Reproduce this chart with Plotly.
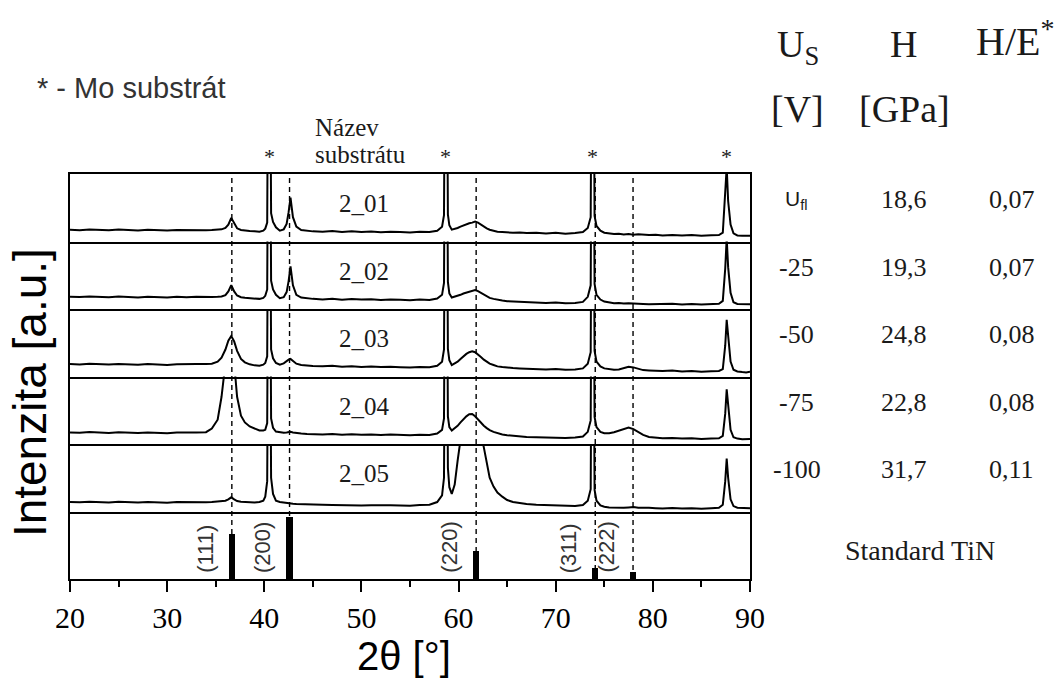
import plotly.graph_objects as go
from plotly.subplots import make_subplots

# 2θ sampling grid [°] (denser around the diffraction lines)
two_theta = [
    20, 21, 22, 23, 24, 25, 26, 27, 28, 29, 30, 31, 32, 33, 34,
    34.6, 35.2, 35.6, 36.0, 36.3, 36.6, 36.9, 37.2, 37.6, 38.0, 38.5, 39.0, 39.5, 39.9,
    40.1, 40.3, 40.5, 40.7, 40.9, 41.2, 41.6, 42.0, 42.3, 42.5, 42.7, 42.95, 43.3, 43.8, 44.4,
    45, 46, 47, 48, 49, 50, 51, 52, 53, 54, 55, 56, 57, 57.8,
    58.3, 58.5, 58.7, 58.9, 59.05, 59.3, 59.6, 59.9, 60.2, 60.5, 60.8, 61.1, 61.4, 61.7,
    62.0, 62.3, 62.6, 62.9, 63.2, 63.6, 64.0, 64.5, 65.0, 65.6, 66.3,
    67, 68, 69, 70, 71, 72, 72.8,
    73.3, 73.6, 73.8, 74.0, 74.2, 74.6, 75.0, 75.5, 76.0, 76.5, 77.0, 77.5, 78.0, 78.5, 79.0, 79.6,
    80.3, 81, 82, 83, 84, 85, 86, 86.8,
    87.2, 87.45, 87.6, 87.75, 88.0, 88.3, 88.7, 89.2, 89.6, 90,
]

# Intensities [a.u.] of the individual samples on the same grid
int_2_01 = [
    1.75, 1.68, 1.78, 1.70, 1.66, 1.76, 1.72, 1.64, 1.74, 1.70, 1.62, 1.72, 1.68, 1.74, 1.66,
    1.70, 1.75, 1.80, 2.00, 2.50, 3.50, 2.60, 1.95, 1.70, 1.60, 1.55, 1.50, 1.45, 1.60,
    1.90, 2.80, 60, 4.20, 2.90, 2.10, 1.60, 1.80, 2.60, 4.30, 6.50, 3.60, 2.20, 1.70, 1.55,
    1.50, 1.45, 1.55, 1.40, 1.50, 1.42, 1.48, 1.38, 1.46, 1.40, 1.35, 1.45, 1.40, 1.60,
    2.20, 3.90, 60, 4.00, 2.40, 1.75, 1.85, 2.00, 2.20, 2.40, 2.60, 2.70, 2.80, 2.95,
    2.80, 2.50, 2.20, 1.95, 1.75, 1.60, 1.45, 1.40, 1.35, 1.30, 1.35,
    1.25, 1.30, 1.20, 1.28, 1.15, 1.25, 1.40,
    2.00, 3.60, 60, 3.80, 2.30, 1.60, 1.30, 1.20, 1.10, 1.15, 1.05, 1.10, 1.00, 1.08, 1.00, 0.95,
    1.00, 0.90, 0.98, 0.88, 0.95, 0.85, 0.92, 0.95,
    1.30, 6.50, 11.0, 6.00, 2.50, 1.20, 0.90, 0.85, 0.80, 0.85,
]
int_2_02 = [
    1.82, 1.76, 1.85, 1.78, 1.74, 1.84, 1.80, 1.72, 1.82, 1.78, 1.70, 1.80, 1.75, 1.82, 1.74,
    1.78, 1.80, 1.85, 2.05, 2.60, 3.55, 2.60, 2.00, 1.75, 1.65, 1.60, 1.55, 1.50, 1.65,
    1.95, 2.90, 60, 4.20, 2.90, 2.10, 1.60, 1.75, 2.50, 4.10, 6.30, 3.50, 2.10, 1.70, 1.55,
    1.50, 1.42, 1.52, 1.38, 1.48, 1.40, 1.45, 1.35, 1.42, 1.36, 1.30, 1.40, 1.35, 1.55,
    2.10, 3.85, 60, 4.00, 2.30, 1.70, 1.80, 1.95, 2.10, 2.30, 2.45, 2.60, 2.70, 2.80,
    2.65, 2.40, 2.10, 1.85, 1.65, 1.50, 1.35, 1.25, 1.15, 1.10, 1.05,
    1.00, 0.95, 0.90, 0.95, 0.85, 0.90, 1.05,
    1.80, 3.50, 60, 3.70, 2.10, 1.40, 1.10, 0.95, 0.85, 0.90, 0.80, 0.85, 0.78, 0.82, 0.75, 0.72,
    0.75, 0.70, 0.78, 0.68, 0.74, 0.66, 0.72, 0.78,
    1.20, 6.00, 10.5, 6.20, 2.40, 1.00, 0.75, 0.70, 0.65, 0.70,
]
int_2_03 = [
    1.85, 1.78, 1.88, 1.80, 1.76, 1.86, 1.82, 1.74, 1.84, 1.80, 1.72, 1.82, 1.78, 1.84, 1.85,
    1.90, 2.20, 2.80, 4.00, 5.30, 6.00, 5.20, 3.80, 2.60, 2.10, 1.80, 1.65, 1.60, 1.75,
    2.00, 3.00, 60, 4.00, 2.70, 2.00, 1.75, 1.95, 2.30, 2.50, 2.60, 2.30, 1.90, 1.70, 1.60,
    1.55, 1.50, 1.58, 1.45, 1.52, 1.42, 1.48, 1.40, 1.45, 1.38, 1.34, 1.42, 1.38, 1.60,
    2.20, 4.00, 60, 4.10, 2.40, 1.70, 1.90, 2.20, 2.60, 3.00, 3.35, 3.60, 3.75, 3.60,
    3.30, 2.90, 2.50, 2.20, 1.90, 1.70, 1.50, 1.40, 1.30, 1.25, 1.20,
    1.15, 1.10, 1.05, 1.12, 1.00, 1.05, 1.20,
    1.90, 3.60, 60, 3.80, 2.20, 1.50, 1.20, 1.05, 1.00, 1.05, 1.20, 1.45, 1.35, 1.10, 0.95, 0.90,
    0.85, 0.80, 0.88, 0.75, 0.82, 0.72, 0.78, 0.82,
    1.10, 4.60, 8.40, 5.80, 2.20, 1.00, 0.75, 0.65, 0.60, 0.70,
]
int_2_04 = [
    1.72, 1.66, 1.76, 1.68, 1.64, 1.74, 1.70, 1.62, 1.72, 1.68, 1.60, 1.70, 1.66, 1.72, 1.75,
    2.30, 3.60, 7.00, 12.0, 16.0, 16.5, 12.0, 7.00, 4.20, 3.20, 2.60, 2.30, 2.00, 2.00,
    2.10, 3.10, 60, 3.80, 2.40, 1.85, 1.70, 1.65, 1.70, 1.75, 1.80, 1.70, 1.60, 1.55, 1.50,
    1.48, 1.42, 1.50, 1.38, 1.45, 1.36, 1.42, 1.32, 1.40, 1.34, 1.30, 1.38, 1.34, 1.55,
    2.10, 3.80, 60, 4.10, 2.50, 2.00, 2.30, 2.70, 3.20, 3.70, 4.10, 4.40, 4.45, 4.10,
    3.60, 3.10, 2.70, 2.35, 2.05, 1.80, 1.60, 1.40, 1.30, 1.20, 1.10,
    1.05, 1.00, 0.95, 1.00, 0.90, 0.95, 1.10,
    1.80, 3.50, 60, 4.00, 2.50, 1.80, 1.60, 1.60, 1.75, 2.00, 2.30, 2.45, 2.20, 1.80, 1.35, 1.05,
    0.95, 0.85, 0.90, 0.80, 0.85, 0.75, 0.80, 0.85,
    1.20, 4.50, 8.10, 5.50, 2.10, 1.00, 0.80, 0.70, 0.70, 0.75,
]
int_2_05 = [
    1.42, 1.36, 1.46, 1.38, 1.34, 1.44, 1.40, 1.32, 1.42, 1.38, 1.30, 1.40, 1.36, 1.42, 1.38,
    1.40, 1.45, 1.50, 1.60, 1.80, 2.10, 1.80, 1.55, 1.45, 1.40, 1.35, 1.35, 1.40, 1.60,
    2.20, 4.50, 60, 5.00, 2.60, 1.60, 1.40, 1.30, 1.25, 1.22, 1.20, 1.15, 1.12, 1.08, 1.05,
    1.05, 1.00, 0.98, 0.92, 0.96, 0.90, 0.94, 0.88, 0.92, 0.90, 0.86, 0.95, 1.00, 1.40,
    2.40, 5.00, 60, 6.50, 3.60, 2.60, 4.00, 7.50, 12.0, 16.0, 19.0, 20.0, 19.0, 17.0,
    14.0, 11.5, 9.50, 7.00, 5.00, 3.70, 2.80, 2.20, 1.70, 1.40, 1.20,
    1.10, 1.00, 0.95, 0.90, 0.85, 0.80, 0.95,
    1.60, 3.30, 60, 3.20, 1.60, 0.90, 0.70, 0.60, 0.55, 0.60, 0.55, 0.60, 0.65, 0.55, 0.50, 0.55,
    0.50, 0.45, 0.52, 0.45, 0.50, 0.42, 0.48, 0.55,
    1.00, 4.50, 7.85, 5.00, 1.80, 0.80, 0.55, 0.50, 0.45, 0.50,
]

sample_names = ["2_01", "2_02", "2_03", "2_04", "2_05"]
bias_voltage = ["U<sub>fl</sub>", "-25", "-50", "-75", "-100"]
hardness_gpa = [18.6, 19.3, 24.8, 22.8, 31.7]
h_over_e = [0.07, 0.07, 0.08, 0.08, 0.11]

# TiN reference pattern (position, relative intensity, hkl)
tin_pos = [36.66, 42.60, 61.81, 74.07, 77.96]
tin_int = [72, 100, 45, 19, 12]
tin_hkl = ["(111)", "(200)", "(220)", "(311)", "(222)"]

# Mo substrate reflections
mo_pos = [40.5, 58.7, 73.8, 87.6]

patterns = [int_2_01, int_2_02, int_2_03, int_2_04, int_2_05]
for p in patterns:
    assert len(p) == len(two_theta)

SERIF = "Liberation Serif"
SANS = "Liberation Sans"
TXT = "#1a1a1a"


def comma(v, nd):
    return f"{v:.{nd}f}".replace(".", ",")


n_rows = 6
fig = make_subplots(rows=n_rows, cols=1, shared_xaxes=True, vertical_spacing=0)

for i, ys in enumerate(patterns):
    fig.add_trace(
        go.Scatter(x=two_theta, y=ys, mode="lines",
                   line=dict(color="black", width=2.0), hoverinfo="skip"),
        row=i + 1, col=1,
    )

fig.add_trace(
    go.Bar(x=tin_pos, y=tin_int, width=0.65,
           marker=dict(color="black", line=dict(width=0)), hoverinfo="skip"),
    row=n_rows, col=1,
)

tick_font = dict(family=SERIF, size=30, color="black")

# one separator line per panel (bottom edge), plus the frame top on the first panel
fig.update_xaxes(range=[20, 90], showline=True, mirror=False, linecolor="black",
                 linewidth=1.5, showgrid=False, zeroline=False, ticks="",
                 showticklabels=False, tickfont=tick_font)
fig.update_xaxes(row=1, col=1, mirror=True)
fig.update_xaxes(row=n_rows, col=1, ticks="outside", ticklen=11, tickwidth=1.5,
                 tickcolor="black", tickvals=list(range(20, 91, 10)),
                 showticklabels=True, tickfont=tick_font,
                 minor=dict(ticks="outside", ticklen=6, tickwidth=1.5,
                            tickcolor="black", dtick=5, tick0=20, showgrid=False))
fig.update_yaxes(range=[0, 10], showline=True, mirror=True, linecolor="black",
                 linewidth=1.5, showgrid=False, zeroline=False, ticks="",
                 showticklabels=False)
fig.update_yaxes(row=n_rows, col=1, range=[0, 107.5])

# dashed guides at the TiN reference positions
for p in tin_pos:
    fig.add_shape(type="line", xref="x", yref="paper", x0=p, x1=p, y0=0, y1=1,
                  line=dict(color="black", width=1.4, dash="5px,4px"), layer="below")

ann = []


def note(text, x, y, xref="paper", yref="paper", xanchor="center", yanchor="middle",
         font=None, **kw):
    ann.append(dict(text=text, x=x, y=y, xref=xref, yref=yref, xanchor=xanchor,
                    yanchor=yanchor, showarrow=False, font=font, **kw))


# substrate markers
for p in mo_pos:
    note("*", p, 1, xref="x", yanchor="bottom", yshift=3,
         font=dict(family=SERIF, size=22, color=TXT))

note("Název", 45.0, 1.116, xref="x", xanchor="left", font=dict(family=SERIF, size=25, color=TXT))
note("substrátu", 45.0, 1.049, xref="x", xanchor="left", font=dict(family=SERIF, size=25, color=TXT))
note("* - Mo substrát", -0.0515, 1.212, xanchor="left", font=dict(family=SANS, size=29, color="#333"))

# sample names and table rows
for i, name in enumerate(sample_names):
    yref = "y" if i == 0 else f"y{i + 1}"
    note(name, 50.3, 5.6, xref="x", yref=yref, font=dict(family=SERIF, size=25, color=TXT))
    bias_font = dict(family=SANS, size=21, color=TXT) if i == 0 else dict(family=SERIF, size=26, color=TXT)
    note(bias_voltage[i], 1.069, 6.2, yref=yref, font=bias_font)
    note(comma(hardness_gpa[i], 1), 1.226, 6.2, yref=yref, font=dict(family=SERIF, size=26, color=TXT))
    note(comma(h_over_e[i], 2), 1.385, 6.2, yref=yref, font=dict(family=SERIF, size=26, color=TXT))

# table header
hdr = dict(family=SERIF, size=38, color=TXT)
note("U<sub>S</sub>", 1.071, 1.313, font=hdr)
note("H", 1.225, 1.322, font=hdr)
note("H/E<sup>*</sup>", 1.390, 1.335, font=dict(family=SERIF, size=40, color=TXT))
note("[V]", 1.070, 1.160, font=hdr)
note("[GPa]", 1.227, 1.160, font=hdr)
note("Standard TiN", 1.25, 0.0716, font=dict(family=SERIF, size=28, color=TXT))

# hkl labels beside the reference bars
for p, lbl in zip(tin_pos, tin_hkl):
    note(lbl, p, 0, xref="x", yref=f"y{n_rows}", yanchor="bottom", xshift=-27, yshift=4,
         textangle=-90, font=dict(family=SANS, size=22, color="#333"))

# axis titles
note("2θ [°]", 0.491, -0.19, font=dict(family=SANS, size=40, color="black"))
note("Intenzita [a.u.]", -0.0588, 0.459, textangle=-90,
     font=dict(family=SANS, size=46, color="black"))

fig.update_layout(
    width=1064, height=679, autosize=False,
    margin=dict(l=70, r=314, t=174, b=100, pad=0),
    font=dict(family=SERIF, color="black"),
    paper_bgcolor="white", plot_bgcolor="rgba(0,0,0,0)",
    showlegend=False, hovermode=False, bargap=0,
    annotations=ann,
)
fig.layout.xaxis6.tickfont = tick_font

fig.write_html("out.html")
